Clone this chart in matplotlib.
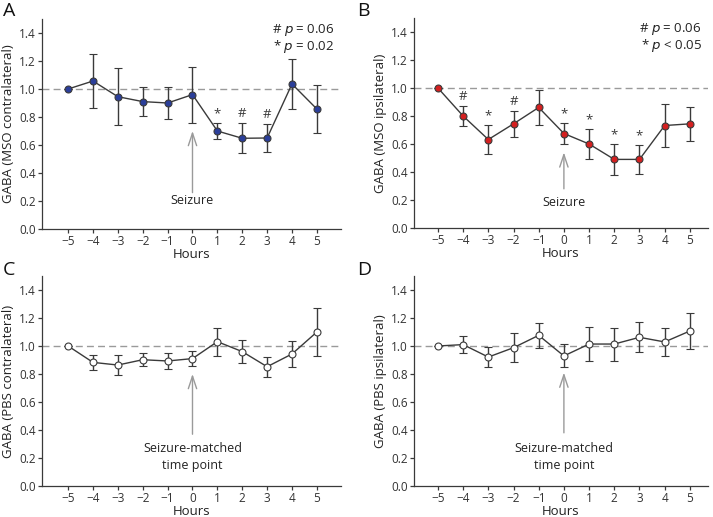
import matplotlib
matplotlib.use("Agg")
import matplotlib.pyplot as plt

plt.rcParams['font.family'] = ['Open Sans', 'DejaVu Sans']

hours = [-5, -4, -3, -2, -1, 0, 1, 2, 3, 4, 5]

# A: MSO contralateral
mso_contra = [1.00, 1.057, 0.945, 0.91, 0.90, 0.96, 0.70, 0.648, 0.65, 1.036, 0.857]
mso_contra_err = [0.0, 0.19, 0.205, 0.105, 0.115, 0.20, 0.06, 0.108, 0.10, 0.18, 0.17]
mso_contra_marks = {1: '*', 2: '#', 3: '#'}

# B: MSO ipsilateral
mso_ipsi = [1.00, 0.80, 0.632, 0.744, 0.861, 0.675, 0.60, 0.49, 0.49, 0.732, 0.744]
mso_ipsi_err = [0.0, 0.07, 0.105, 0.095, 0.123, 0.077, 0.11, 0.11, 0.105, 0.155, 0.12]
mso_ipsi_marks = {-4: '#', -3: '*', -2: '#', 0: '*', 1: '*', 2: '*', 3: '*'}

# C: PBS contralateral
pbs_contra = [1.00, 0.883, 0.864, 0.902, 0.893, 0.91, 1.031, 0.96, 0.852, 0.943, 1.10]
pbs_contra_err = [0.0, 0.054, 0.07, 0.048, 0.055, 0.055, 0.10, 0.08, 0.073, 0.092, 0.172]

# D: PBS ipsilateral
pbs_ipsi = [1.00, 1.01, 0.921, 0.988, 1.076, 0.929, 1.014, 1.014, 1.062, 1.029, 1.107]
pbs_ipsi_err = [0.0, 0.062, 0.07, 0.102, 0.087, 0.082, 0.12, 0.118, 0.108, 0.103, 0.13]

W, H = 713, 517
fig = plt.figure(figsize=(W / 100, H / 100), dpi=100)


def px_axes(x0, x1, ybot, ytop):
    return fig.add_axes([x0 / W, 1 - ybot / H, (x1 - x0) / W, (ybot - ytop) / H])


dark = '#3a3a3a'
grey = '#9a9a9a'


def panel(ax, y, err, face, ylabel, xlim, marks=None, ptext=None, ptext_x=5.6,
          arrow=(0.25, 0.71), label='Seizure', label_y=0.2):
    ax.axhline(1.0, color=grey, lw=1.0, ls=(0, (5, 3)), zorder=1)
    ax.errorbar(hours, y, yerr=err, fmt='-o', color=dark, ecolor=dark, lw=1.0,
                elinewidth=1.0, capsize=3, capthick=1.0, ms=5,
                mfc=face, mec=dark, mew=0.8, zorder=3)
    if marks:
        for h, m in marks.items():
            i = hours.index(h)
            ax.text(h, y[i] + err[i] + 0.02, m, ha='center', va='bottom',
                    fontsize=9.5, color=dark)
    if ptext:
        ax.text(ptext_x, 1.42, '# $p$ = 0.06', ha='right', va='center',
                fontsize=9.5, color='#222222')
        ax.text(ptext_x, 1.305, '* $p$ ' + ptext, ha='right', va='center',
                fontsize=9.5, color='#222222')
    ax.annotate('', xy=(0, arrow[1]), xytext=(0, arrow[0]),
                arrowprops=dict(arrowstyle='->,head_length=0.9,head_width=0.3',
                                color=grey, lw=1.0))
    ax.text(0, label_y, label, ha='center', va='center', fontsize=9,
            color='#222222', linespacing=1.4)
    ax.set_xlim(*xlim)
    ax.set_ylim(0, 1.5)
    ax.set_xticks(hours)
    ax.set_xticklabels(['\u2212%d' % -h if h < 0 else str(h) for h in hours])
    ax.set_yticks([0, 0.2, 0.4, 0.6, 0.8, 1.0, 1.2, 1.4])
    ax.set_yticklabels(['%.1f' % v for v in [0, 0.2, 0.4, 0.6, 0.8, 1.0, 1.2, 1.4]])
    ax.tick_params(labelsize=8.5, colors=dark, length=3, width=0.9,
                   labelcolor='#333333', pad=1.5)
    for s in ['top', 'right']:
        ax.spines[s].set_visible(False)
    for s in ['left', 'bottom']:
        ax.spines[s].set_color(dark)
        ax.spines[s].set_linewidth(0.9)
    ax.set_xlabel('Hours', fontsize=9.5, color='#222222', labelpad=-0.5)
    ax.set_ylabel(ylabel, fontsize=9.5, color='#222222', labelpad=3)


axA = px_axes(42, 341, 229, 19)
axB = px_axes(414, 708, 228, 18)
axC = px_axes(42, 341, 486, 276)
axD = px_axes(414, 708, 486, 276)

panel(axA, mso_contra, mso_contra_err, '#2b3f9a', 'GABA (MSO contralateral)',
      (-6.05, 5.97), mso_contra_marks, '= 0.02', 5.7, (0.24, 0.72), 'Seizure', 0.2)
panel(axB, mso_ipsi, mso_ipsi_err, '#d42020', 'GABA (MSO ipsilateral)',
      (-5.95, 5.72), mso_ipsi_marks, '< 0.05', 5.48, (0.26, 0.56), 'Seizure', 0.18)
panel(axC, pbs_contra, pbs_contra_err, 'white', 'GABA (PBS contralateral)',
      (-6.05, 5.97), None, None, 5.7, (0.35, 0.82), 'Seizure-matched\ntime point', 0.205)
panel(axD, pbs_ipsi, pbs_ipsi_err, 'white', 'GABA (PBS ipsilateral)',
      (-5.95, 5.72), None, None, 5.48, (0.36, 0.83), 'Seizure-matched\ntime point', 0.205)

for lab, x, y in [('A', 3, 2), ('B', 357, 2), ('C', 3, 261), ('D', 357, 261)]:
    fig.text(x / W, 1 - y / H, lab, ha='left', va='top', fontsize=14, color='#111111')

fig.savefig('out.png', dpi=100)
